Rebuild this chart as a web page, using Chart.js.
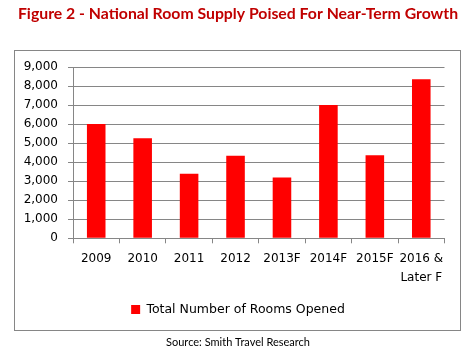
<!DOCTYPE html>
<html>
<head>
<meta charset="utf-8">
<script src="https://cdn.jsdelivr.net/npm/chart.js@4/dist/chart.umd.min.js"></script>
<style>
  html, body { margin: 0; padding: 0; background: #fff; }
  #wrap { width: 476px; height: 358px; position: relative; }
</style>
</head>
<body>
<div id="wrap"><canvas id="c" width="476" height="358"></canvas></div>
<script>
const categories = ["2009", "2010", "2011", "2012", "2013F", "2014F", "2015F", ["2016 &", "Later F"]];
const roomsOpened = [6020, 5270, 3390, 4340, 3195, 7020, 4375, 8365];
const yTicks = [0, 1000, 2000, 3000, 4000, 5000, 6000, 7000, 8000, 9000];
const seriesName = "Total Number of Rooms Opened";
const titleText = "Figure 2 - National Room Supply Poised For Near-Term Growth";
const sourceText = "Source: Smith Travel Research";

const GRID = "#868686";

const frame = {
  id: "frame",
  beforeDraw(chart) {
    const ctx = chart.ctx;
    ctx.save();
    ctx.strokeStyle = GRID;
    ctx.lineWidth = 1;
    ctx.strokeRect(14.5, 50.5, 446, 280);
    ctx.restore();
  }
};

new Chart(document.getElementById("c"), {
  type: "bar",
  data: {
    labels: categories,
    datasets: [{
      label: seriesName,
      data: roomsOpened,
      backgroundColor: "#FF0000",
      borderWidth: 0,
      barPercentage: 0.4,
      categoryPercentage: 1.0
    }]
  },
  options: {
    responsive: false,
    animation: false,
    devicePixelRatio: 1,
    layout: { padding: 0 },
    plugins: {
      title: {
        display: true,
        text: titleText,
        color: "#C00000",
        font: { family: "Lato", size: 15.8, weight: "bold" },
        padding: { top: 4.5, bottom: 43.8 }
      },
      subtitle: {
        display: true,
        position: "bottom",
        text: sourceText,
        color: "#000",
        font: { family: "Lato", size: 11 },
        padding: { top: 10, bottom: 9 }
      },
      legend: {
        display: true,
        position: "bottom",
        labels: {
          boxWidth: 9,
          boxHeight: 9,
          color: "#000",
          font: { family: "DejaVu Sans", size: 12.5 },
          padding: 10
        }
      },
      tooltip: { enabled: false }
    },
    scales: {
      x: {
        offset: true,
        grid: {
          display: true,
          drawOnChartArea: false,
          drawTicks: true,
          tickLength: 5,
          color: GRID,
          offset: true
        },
        border: { display: true, color: GRID },
        ticks: {
          color: "#000",
          font: { family: "DejaVu Sans", size: 12, lineHeight: 1.6 },
          padding: 6,
          maxRotation: 0,
          autoSkip: false
        },
        afterFit(scale) { scale.height = 55; }
      },
      y: {
        min: 0,
        max: 9000,
        afterBuildTicks(scale) { scale.ticks = yTicks.map(v => ({ value: v })); },
        grid: { color: GRID, tickLength: 5, drawTicks: true },
        border: { display: true, color: GRID },
        ticks: {
          color: "#000",
          font: { family: "DejaVu Sans", size: 12 },
          padding: 10,
          callback: v => v.toLocaleString("en-US")
        },
        afterFit(scale) { scale.width = 73; }
      },
      yRight: {
        position: "right",
        display: true,
        grid: { display: false },
        border: { display: false },
        ticks: { display: false },
        afterFit(scale) { scale.width = 31.5; }
      }
    }
  },
  plugins: [frame]
});
</script>
</body>
</html>
